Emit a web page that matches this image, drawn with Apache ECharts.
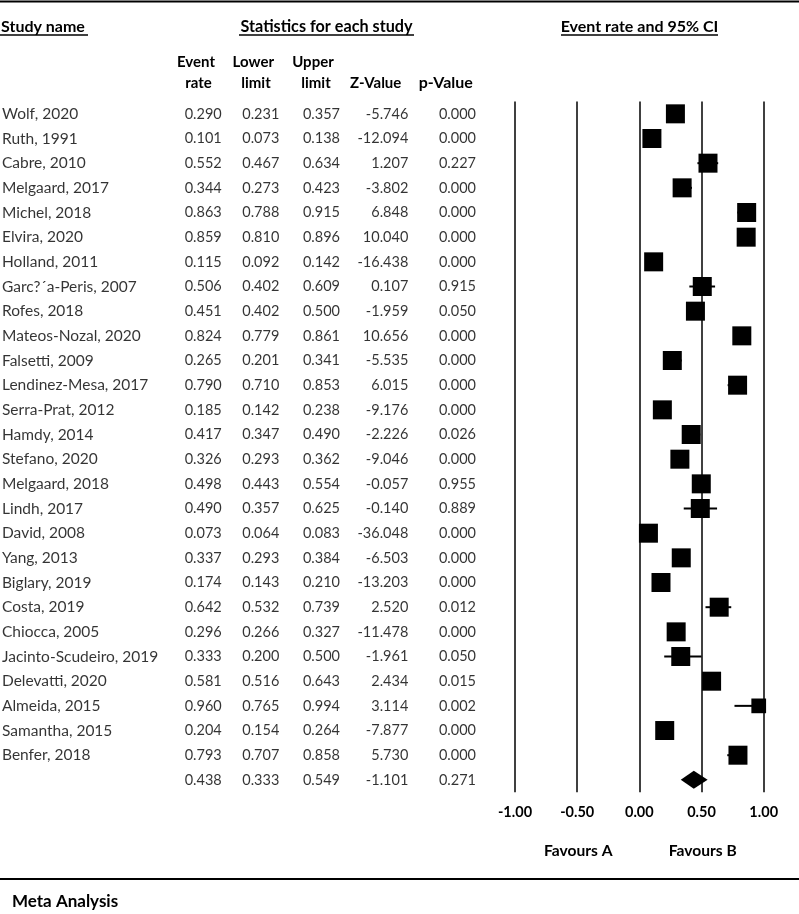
<!DOCTYPE html>
<html><head><meta charset="utf-8">
<script src="https://cdn.jsdelivr.net/npm/echarts@6/dist/echarts.min.js"></script>
<style>html,body{margin:0;padding:0;background:#fff}#c{width:799px;height:914px}</style>
</head><body><div id="c"></div>
<script>
const studies = ["Wolf, 2020","Ruth, 1991","Cabre, 2010","Melgaard, 2017","Michel, 2018","Elvira, 2020","Holland, 2011","Garc?´a-Peris, 2007","Rofes, 2018","Mateos-Nozal, 2020","Falsetti, 2009","Lendinez-Mesa, 2017","Serra-Prat, 2012","Hamdy, 2014","Stefano, 2020","Melgaard, 2018","Lindh, 2017","David, 2008","Yang, 2013","Biglary, 2019","Costa, 2019","Chiocca, 2005","Jacinto-Scudeiro, 2019","Delevatti, 2020","Almeida, 2015","Samantha, 2015","Benfer, 2018"];
const eventRate = [0.290,0.101,0.552,0.344,0.863,0.859,0.115,0.506,0.451,0.824,0.265,0.790,0.185,0.417,0.326,0.498,0.490,0.073,0.337,0.174,0.642,0.296,0.333,0.581,0.960,0.204,0.793];
const lowerLimit = [0.231,0.073,0.467,0.273,0.788,0.810,0.092,0.402,0.402,0.779,0.201,0.710,0.142,0.347,0.293,0.443,0.357,0.064,0.293,0.143,0.532,0.266,0.200,0.516,0.765,0.154,0.707];
const upperLimit = [0.357,0.138,0.634,0.423,0.915,0.896,0.142,0.609,0.500,0.861,0.341,0.853,0.238,0.490,0.362,0.554,0.625,0.083,0.384,0.210,0.739,0.327,0.500,0.643,0.994,0.264,0.858];
const zValue = ["-5.746","-12.094","1.207","-3.802","6.848","10.040","-16.438","0.107","-1.959","10.656","-5.535","6.015","-9.176","-2.226","-9.046","-0.057","-0.140","-36.048","-6.503","-13.203","2.520","-11.478","-1.961","2.434","3.114","-7.877","5.730"];
const pValue = ["0.000","0.000","0.227","0.000","0.000","0.000","0.000","0.915","0.050","0.000","0.000","0.000","0.000","0.026","0.000","0.955","0.889","0.000","0.000","0.000","0.012","0.000","0.050","0.015","0.002","0.000","0.000"];
const relWeight = [1,1,1,1,1,1,1,1,1,1,1,1,1,1,1,1,1,1,1,1,1,1,1,1,0.6,1,1];
const summary = {rate:0.438, lower:0.333, upper:0.549, z:"-1.101", p:"0.271"};
const xTicks = [-1, -0.5, 0, 0.5, 1];

const FONT = 'Lato';
const FS = 14.5;
const nRows = studies.length + 1;
const grid = {top:101.5, bottom:121.8};

const rowsData = studies.map((s,i)=>[i, eventRate[i], lowerLimit[i], upperLimit[i], relWeight[i]]);
const sumIdx = studies.length;

function colSeries(xPos, values, pos, fs){
  return {
    type:'scatter', xAxisIndex:1, yAxisIndex:1, symbolSize:0, silent:true,
    data: values.map((v,i)=>({value:[xPos, i], label:{formatter:v}})),
    label:{show:true, position:pos, distance:0, color:'#000', fontFamily:FONT, fontSize:fs||FS}
  };
}
const fmt = v => v.toFixed(3);
const rateCol = eventRate.map(fmt).concat([fmt(summary.rate)]);
const lowCol = lowerLimit.map(fmt).concat([fmt(summary.lower)]);
const upCol = upperLimit.map(fmt).concat([fmt(summary.upper)]);
const zCol = zValue.concat([summary.z]);
const pCol = pValue.concat([summary.p]);

function hText(x, y, t, align, fs){ return {type:'text', x:x, y:y, style:{text:t, align:align||'center', verticalAlign:'middle', fontFamily:FONT, fontSize:fs||15, fontWeight:'bold', fill:'#000'}}; }
function hLine(x1,x2,y,w){ return {type:'line', shape:{x1:x1,y1:y,x2:x2,y2:y}, style:{stroke:'#000', lineWidth:w}}; }

const chart = echarts.init(document.getElementById('c'), null, {renderer:'canvas'});
chart.setOption({
  animation:false,
  grid:[
    {left:515, right:35.3, top:grid.top, bottom:grid.bottom},
    {left:0, right:0, top:grid.top, bottom:grid.bottom}
  ],
  xAxis:[
    {type:'value', gridIndex:0, min:-1, max:1, interval:0.5,
     axisLine:{show:false}, axisTick:{show:false}, splitLine:{show:false},
     axisLabel:{margin:13, formatter:v=>v.toFixed(2), color:'#000', fontFamily:FONT, fontSize:FS, fontWeight:'bold'}},
    {type:'value', gridIndex:1, min:0, max:799, show:false}
  ],
  yAxis:[
    {type:'value', gridIndex:0, min:-0.5, max:nRows-0.5, inverse:true, show:false},
    {type:'value', gridIndex:1, min:-0.5, max:nRows-0.5, inverse:true, show:false}
  ],
  graphic:[
    hLine(0,799,1.5,2),
    hText(1,26.7,'Study name','left',16), hLine(0,88,35,1.5),
    hText(326.5,26.7,'Statistics for each study','center',16.2), hLine(239,414,35,1.5),
    hText(639.5,26.7,'Event rate and 95% CI','center',16), hLine(561,718,35,1.5),
    hText(196,61.7,'Event'), hText(198.5,82.7,'rate'),
    hText(253.3,61.7,'Lower'), hText(256,82.7,'limit'),
    hText(313,61.7,'Upper'), hText(316,82.7,'limit'),
    hText(375.7,82.7,'Z-Value'), hText(445.8,82.7,'p-Value','center',16),
    hText(578.3,850.7,'Favours A','center',15.6), hText(702.7,850.7,'Favours B','center',15.6),
    hLine(0,799,879,2),
    hText(12,901.7,'Meta Analysis','left',17)
  ],
  series:[
    {type:'line', xAxisIndex:0, yAxisIndex:0, data:[], silent:true,
     markLine:{symbol:['none','none'], silent:true, label:{show:false},
       lineStyle:{color:'#000', width:1.5, type:'solid'},
       data: xTicks.map(v=>({xAxis:v}))}},
    {type:'custom', xAxisIndex:0, yAxisIndex:0, data:rowsData, silent:true,
     renderItem:function(params, api){
       const y = api.value(0);
       const c = api.coord([api.value(1), y]);
       const lo = api.coord([api.value(2), y]);
       const hi = api.coord([api.value(3), y]);
       const s = 19*Math.sqrt(api.value(4));
       return {type:'group', children:[
         {type:'line', shape:{x1:lo[0], y1:c[1], x2:hi[0], y2:c[1]}, style:{stroke:'#000', lineWidth:2}},
         {type:'rect', shape:{x:c[0]-s/2, y:c[1]-s/2, width:s, height:s}, style:{fill:'#000'}}
       ]};
     }},
    {type:'custom', xAxisIndex:0, yAxisIndex:0, data:[[sumIdx, summary.rate, summary.lower, summary.upper]], silent:true,
     renderItem:function(params, api){
       const y = api.value(0);
       const c = api.coord([api.value(1), y]);
       const lo = api.coord([api.value(2), y]);
       const hi = api.coord([api.value(3), y]);
       return {type:'polygon', shape:{points:[[lo[0],c[1]],[c[0],c[1]-9],[hi[0],c[1]],[c[0],c[1]+9]]}, style:{fill:'#000'}};
     }},
    colSeries(2, studies, 'right', 15.5),
    colSeries(221.7, rateCol, 'left'),
    colSeries(279.3, lowCol, 'left'),
    colSeries(340, upCol, 'left'),
    colSeries(408.3, zCol, 'left'),
    colSeries(476, pCol, 'left')
  ]
});
</script></body></html>
